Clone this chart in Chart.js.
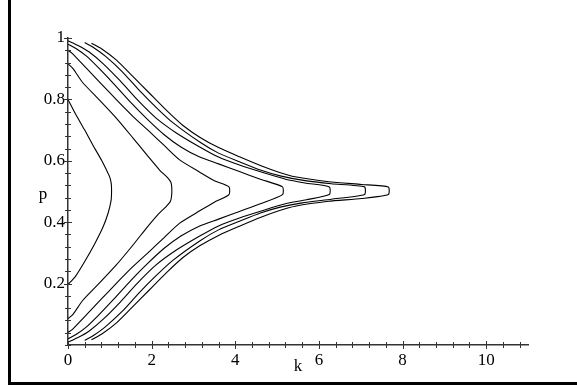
<!DOCTYPE html>
<html>
<head>
<meta charset="utf-8">
<script src="https://cdn.jsdelivr.net/npm/chart.js@4/dist/chart.umd.min.js"></script>
<style>
  html, body { margin: 0; padding: 0; background: #fff; }
  #wrap { position: relative; width: 577px; height: 386px; }
  #frame { position: absolute; left: 8px; top: 0; width: 569px; height: 385px;
           border-left: 3px solid #000; border-bottom: 3px solid #000; box-sizing: border-box; }
</style>
</head>
<body>
<div id="wrap">
  <canvas id="chart" width="577" height="386"></canvas>
  <div id="frame"></div>
</div>
<script>
// contour curves, [k, p]: top start -> tip at p = 0.5 -> bottom end
const c1 = [[0,0.8],[0.19,0.75],[0.40,0.7],[0.60,0.65],[0.81,0.6],[0.92,0.57],[0.99,0.55],[1.03,0.53],[1.04,0.515],
  [1.04,0.49],[1.03,0.47],[0.96,0.43],[0.84,0.385],[0.64,0.33],[0.40,0.272],[0.17,0.222],[0,0.197]];
const c2 = [[0,0.916],[0.12,0.9],[0.35,0.855],[0.76,0.797],[1.15,0.74],[1.55,0.675],[1.9,0.617],[2.19,0.57],[2.38,0.545],[2.46,0.53],[2.48,0.515],
  [2.48,0.49],[2.45,0.468],[2.34,0.45],[2.15,0.425],[1.9,0.385],[1.55,0.325],[1.15,0.26],[0.76,0.203],[0.35,0.145],[0.12,0.1],[0,0.086]];
const c3 = [[0,0.96],[0.1,0.95],[0.45,0.9],[0.8,0.85],[1.15,0.8],[1.55,0.745],[1.95,0.695],[2.3,0.65],[2.67,0.603],[3.15,0.563],[3.5,0.535],[3.85,0.515],
  [3.85,0.49],[3.5,0.465],[3.15,0.437],[2.67,0.397],[2.3,0.35],[1.95,0.305],[1.55,0.255],[1.15,0.2],[0.8,0.15],[0.45,0.1],[0.1,0.05],[0,0.041]];
const c4 = [[0,0.98],[0.2,0.965],[0.45,0.94],[0.75,0.9],[1.1,0.85],[1.5,0.79],[1.9,0.735],[2.3,0.685],[2.7,0.645],[3.15,0.612],[3.6,0.59],[4.1,0.565],[4.6,0.54],[5.13,0.515],
  [5.13,0.49],[4.6,0.46],[4.1,0.435],[3.6,0.41],[3.15,0.388],[2.7,0.355],[2.3,0.315],[1.9,0.265],[1.5,0.21],[1.1,0.15],[0.75,0.1],[0.45,0.06],[0.2,0.035],[0,0.02]];
const c5 = [[0,0.991],[0.25,0.975],[0.5,0.955],[0.85,0.915],[1.25,0.86],[1.65,0.8],[2.1,0.74],[2.6,0.69],[3.15,0.645],[3.6,0.612],[4.1,0.586],[4.7,0.56],[5.2,0.54],[5.7,0.527],[6.25,0.515],
  [6.25,0.49],[5.7,0.473],[5.2,0.46],[4.7,0.44],[4.1,0.414],[3.6,0.388],[3.15,0.355],[2.6,0.31],[2.1,0.26],[1.65,0.2],[1.25,0.14],[0.85,0.085],[0.5,0.045],[0.25,0.025],[0,0.009]];
const c6 = [[0.4,0.985],[0.6,0.97],[0.9,0.94],[1.3,0.89],[1.7,0.83],[2.1,0.775],[2.5,0.725],[3.15,0.661],[3.6,0.625],[4.1,0.597],[4.6,0.57],[5.1,0.55],[5.6,0.537],[6.3,0.525],[7.09,0.515],
  [7.09,0.49],[6.3,0.475],[5.6,0.463],[5.1,0.45],[4.6,0.43],[4.1,0.403],[3.6,0.375],[3.15,0.339],[2.5,0.275],[2.1,0.225],[1.7,0.17],[1.3,0.11],[0.9,0.06],[0.6,0.03],[0.4,0.015]];
const c7 = [[0.56,0.983],[0.8,0.965],[1.16,0.928],[1.55,0.875],[1.95,0.82],[2.35,0.765],[2.75,0.715],[3.15,0.677],[3.6,0.643],[4.1,0.613],[4.63,0.583],[5.06,0.562],[5.43,0.548],[6.23,0.532],[7.02,0.523],[7.66,0.515],
  [7.66,0.49],[7.02,0.477],[6.23,0.468],[5.43,0.452],[5.06,0.438],[4.63,0.417],[4.1,0.387],[3.6,0.357],[3.15,0.323],[2.75,0.285],[2.35,0.235],[1.95,0.18],[1.55,0.125],[1.16,0.072],[0.8,0.035],[0.56,0.017]];

const curves = [c1, c2, c3, c4, c5, c6, c7];
const xLabels = [0, 2, 4, 6, 8, 10];
const yLabels = [0.2, 0.4, 0.6, 0.8, 1];

const serif = 'Liberation Serif';
Chart.defaults.font.family = serif;

const near = (v, list) => list.some(l => Math.abs(v - l) < 1e-6);

const axisTicks = {
  id: 'axisTicks',
  afterDraw(chart) {
    const {ctx, chartArea: a, scales: {x, y}} = chart;
    ctx.save();
    ctx.strokeStyle = '#333';
    ctx.lineWidth = 1;
    ctx.beginPath();
    x.ticks.forEach(t => {
      const px = Math.round(x.getPixelForValue(t.value)) + 0.5;
      const h = near(t.value, xLabels) ? 4 : 3;
      ctx.moveTo(px, a.bottom - h); ctx.lineTo(px, a.bottom + h);
    });
    y.ticks.forEach(t => {
      const py = Math.round(y.getPixelForValue(t.value)) + 0.5;
      const h = near(t.value, yLabels) ? 4 : 3;
      ctx.moveTo(a.left - h, py); ctx.lineTo(a.left + h, py);
    });
    ctx.stroke();
    ctx.fillStyle = '#000';
    ctx.font = '17px ' + serif;
    ctx.textAlign = 'center';
    ctx.textBaseline = 'middle';
    ctx.fillText('p', 43, 195);
    ctx.fillText('k', (a.left + a.right) / 2, 367);
    ctx.restore();
  }
};

new Chart(document.getElementById('chart'), {
  type: 'scatter',
  data: {
    datasets: curves.map(c => ({
      data: c.map(([k, p]) => ({x: k, y: p})),
      showLine: true,
      borderColor: '#000',
      borderWidth: 1.1,
      pointRadius: 0,
      tension: 0.2,
      fill: false
    }))
  },
  options: {
    responsive: false,
    animation: false,
    layout: {padding: {left: 0, top: 38, right: 49, bottom: 0}},
    plugins: {legend: {display: false}, tooltip: {enabled: false}},
    scales: {
      x: {
        type: 'linear', min: 0, max: 11,
        afterFit: s => { s.height = 41; },
        grid: {display: true, drawOnChartArea: false, drawTicks: false},
        border: {display: true, color: '#333', width: 1.5},
        ticks: {
          stepSize: 0.4, autoSkip: false, includeBounds: false, maxRotation: 0, padding: 5,
          color: '#000', font: {family: serif, size: 17},
          callback: v => near(v, xLabels) ? String(Math.round(v)) : ''
        }
      },
      y: {
        type: 'linear', min: 0, max: 1,
        afterFit: s => { s.width = 68; },
        grid: {display: true, drawOnChartArea: false, drawTicks: false},
        border: {display: true, color: '#333', width: 1.5},
        ticks: {
          stepSize: 0.04, autoSkip: false, includeBounds: false, padding: 3,
          color: '#000', font: {family: serif, size: 17},
          callback: v => near(v, yLabels) ? String(Math.round(v * 10) / 10) : ''
        }
      }
    }
  },
  plugins: [axisTicks]
});
</script>
</body>
</html>
